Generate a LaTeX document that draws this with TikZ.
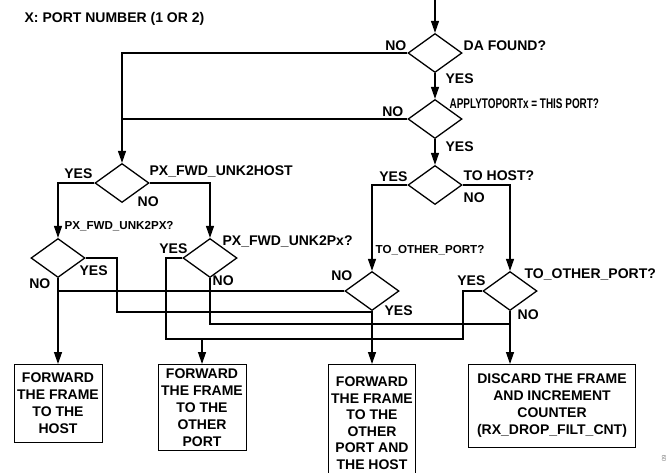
\documentclass[tikz,border=0pt]{standalone}
\usepackage{fontspec}
\setmainfont{Liberation Sans}
\usepackage{graphicx}
\usetikzlibrary{shapes.geometric,arrows.meta,positioning}

\begin{document}
\begin{tikzpicture}[x=1pt, y=1pt, node distance=66pt, line width=1.3pt,
    dec/.style={diamond, draw, minimum width=54pt, minimum height=39pt, inner sep=0pt},
    box/.style={rectangle, draw, line width=0.9pt, anchor=north, align=center,
                inner sep=2pt, font=\fontsize{14}{17}\selectfont\bfseries},
    lbl/.style={inner sep=0pt, text height=10pt, text depth=0pt,
                font=\fontsize{14}{17}\selectfont\bfseries},
    lbls/.style={lbl, text height=8.3pt, font=\fontsize{11.6}{14}\selectfont\bfseries},
    arr/.style={-{Triangle[length=12pt,width=8pt]}}]
    \useasboundingbox (0,0) rectangle (671,-472);

    \node[lbl, anchor=west] (title) at (24,-17) {X: PORT NUMBER (1 OR 2)};

    % decisions
    \node[dec] (dafound) at (435,-53) {};
    \node[dec] (apply)  [below of=dafound] {};
    \node[dec] (tohost) [below of=apply] {};
    \node[dec] (unkhost) at (122,-183) {};
    \node[dec] (unkpx)   at (58,-258) {};
    \node[dec] (unkpxx)  at (210,-258) {};
    \node[dec] (otherA)  at (372,-291) {};
    \node[dec] (otherB)  at (510,-291) {};

    % actions
    \node[box, minimum width=88pt, minimum height=78pt] (tohostbox) at (58,-364)
        {FORWARD\\THE FRAME\\TO THE\\HOST};
    \node[box, minimum width=88pt, minimum height=86pt] (toportbox) at (202,-364)
        {FORWARD\\THE FRAME\\TO THE\\OTHER\\PORT};
    \node[box, minimum width=87pt, minimum height=117pt,
          font=\fontsize{14}{16.5}\selectfont\bfseries] (tobothbox) at (372,-364)
        {FORWARD\\THE FRAME\\TO THE\\OTHER\\PORT AND\\THE HOST};
    \node[box, minimum width=167pt, minimum height=83pt] (dropbox) at (552,-364)
        {DISCARD THE FRAME\\AND INCREMENT\\COUNTER\\(RX\_DROP\_FILT\_CNT)};

    % labels
    \node[lbl, anchor=west] (dafoundq) at (463,-45) {DA FOUND?};
    \node[lbl, anchor=east] (dafoundno) at (407,-45) {NO};
    \node[lbl, anchor=west] (dafoundyes) at (445,-78) {YES};
    \node[lbl, anchor=west] (applyq) at (449,-103) {\scalebox{0.71}[1]{APPLYTOPORTx = THIS PORT?}};
    \node[lbl, anchor=east] (applyno) at (404,-111) {NO};
    \node[lbl, anchor=west] (applyyes) at (445,-146) {YES};
    \node[lbl, anchor=east] (tohostyes) at (408,-176) {YES};
    \node[lbl, anchor=west] (tohostq) at (463,-175) {TO HOST?};
    \node[lbl, anchor=west] (tohostno) at (463,-197) {NO};
    \node[lbl, anchor=east] (unkhostyes) at (93,-173) {YES};
    \node[lbl, anchor=west] (unkhostq) at (149,-170) {PX\_FWD\_UNK2HOST};
    \node[lbl, anchor=west] (unkhostno) at (137,-201) {NO};
    \node[lbls, anchor=west] (unkpxq) at (64,-225) {PX\_FWD\_UNK2PX?};
    \node[lbl, anchor=west] (unkpxyes) at (79,-270) {YES};
    \node[lbl, anchor=east] (unkpxno) at (51,-283) {NO};
    \node[lbl, anchor=east] (unkpxxyes) at (188,-248) {YES};
    \node[lbl, anchor=west] (unkpxxq) at (222,-240) {PX\_FWD\_UNK2Px?};
    \node[lbl, anchor=west] (unkpxxno) at (212,-280) {NO};
    \node[lbls, anchor=west] (otherAq) at (375,-249) {TO\_OTHER\_PORT?};
    \node[lbl, anchor=east] (otherAno) at (353,-275) {NO};
    \node[lbl, anchor=west] (otherAyes) at (384,-310) {YES};
    \node[lbl, anchor=east] (otherByes) at (486,-280) {YES};
    \node[lbl, anchor=west] (otherBq) at (524,-273) {TO\_OTHER\_PORT?};
    \node[lbl, anchor=west] (otherBno) at (517,-314) {NO};
    \node[inner sep=0pt, rotate=90, text=gray, font=\fontsize{6}{7}\selectfont] (figno) at (664,-458) {09};

    % flow
    \coordinate (entry) at (435,0);
    \coordinate (c1) at (166,-339);
    \coordinate (c2) at (463,-339);
    \coordinate (c3) at (117,-312);
    \coordinate (c4) at (0,-324);
    \draw[arr] (entry) -- (dafound);
    \draw[arr] (dafound) -- (apply);
    \draw[arr] (apply) -- (tohost);
    \draw[arr] (dafound.west) -| (unkhost.north);
    \draw (apply.west) -- (apply.west -| unkhost.north);
    \draw[arr] (unkhost.west) -| (unkpx.north);
    \draw[arr] (unkhost.east) -| (unkpxx.north);
    \draw[arr] (tohost.west) -| (otherA.north);
    \draw[arr] (tohost.east) -| (otherB.north);
    \draw (otherA.west) -- (otherA.west -| unkpx.south);
    \draw (unkpx.east) -| (c3) -- (c3 -| otherA.south);
    \draw (unkpxx.south) |- (c4 -| otherB.south);
    \draw (unkpxx.west) -| (c1) -- (c2) |- (otherB.west);
    \draw[arr] (unkpx.south) -- (tohostbox.north);
    \draw[arr] (toportbox.north |- c1) -- (toportbox.north);
    \draw[arr] (otherA.south) -- (tobothbox.north);
    \draw[arr] (otherB.south) -- (otherB.south |- dropbox.north);
\end{tikzpicture}
\end{document}
